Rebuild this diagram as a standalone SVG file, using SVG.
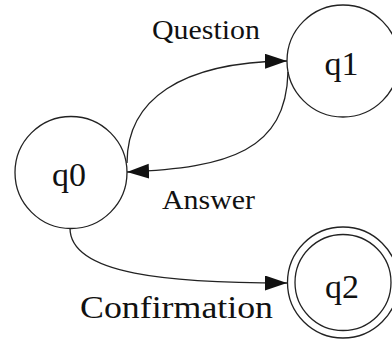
<svg xmlns="http://www.w3.org/2000/svg" width="392" height="340" viewBox="0 0 392 340">
<style>
.node{fill:none;stroke:#222;stroke-width:1.3}
.edge{fill:none;stroke:#222;stroke-width:1.3}
.nl{font-family:"Liberation Serif","Times New Roman",serif;font-size:34px;fill:#111;text-anchor:middle}
.el{font-family:"Liberation Serif","Times New Roman",serif;fill:#111}
</style>
<defs>
<marker id="arr" markerUnits="userSpaceOnUse" markerWidth="23" markerHeight="16" refX="22" refY="7.5" orient="auto">
<path d="M0,0 L22,7.5 L0,15 Z" fill="#111"/>
</marker>
</defs>
<rect width="392" height="340" fill="#fff"/>
<g id="edges">
<path class="edge" d="M127,163 C127,100 180,62 287,61" marker-end="url(#arr)"/>
<path class="edge" d="M288,72 C286,150 230,168 127,172" marker-end="url(#arr)"/>
<path class="edge" d="M70,228 C70,275 170,283 287,283" marker-end="url(#arr)"/>
<text class="el" x="152" y="39" font-size="28" textLength="108" lengthAdjust="spacingAndGlyphs">Question</text>
<text class="el" x="162" y="209" font-size="27" textLength="93" lengthAdjust="spacingAndGlyphs">Answer</text>
<text class="el" x="80" y="318" font-size="32" textLength="193" lengthAdjust="spacingAndGlyphs">Confirmation</text>
</g>
<g id="q0">
<circle class="node" cx="71" cy="172.5" r="56"/>
<text class="nl" x="69" y="186">q0</text>
</g>
<g id="q1">
<circle class="node" cx="343" cy="61" r="56"/>
<text class="nl" x="341.5" y="75">q1</text>
</g>
<g id="q2">
<circle class="node" cx="343" cy="282.5" r="55.5"/>
<circle class="node" cx="343" cy="282.5" r="48"/>
<text class="nl" x="342" y="298">q2</text>
</g>
</svg>
